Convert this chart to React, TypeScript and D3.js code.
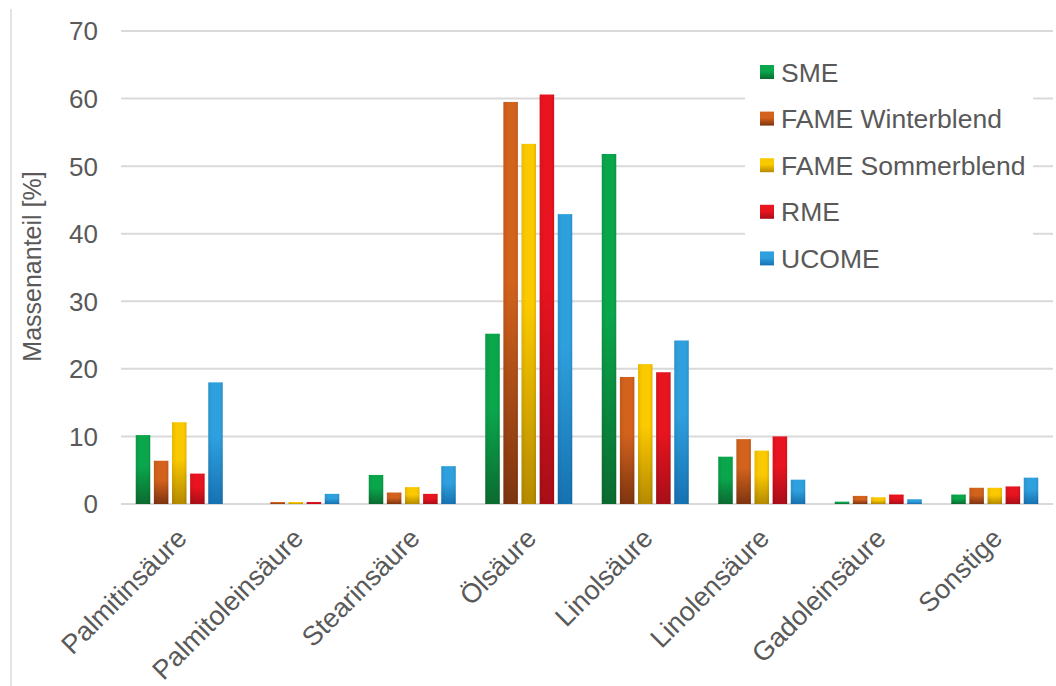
import React from "react";
import * as d3 from "d3";

const categories = [
  "Palmitinsäure",
  "Palmitoleinsäure",
  "Stearinsäure",
  "Ölsäure",
  "Linolsäure",
  "Linolensäure",
  "Gadoleinsäure",
  "Sonstige",
];

const seriesNames = ["SME", "FAME Winterblend", "FAME Sommerblend", "RME", "UCOME"];

const sme = [10.2, 0.0, 4.3, 25.2, 51.8, 7.0, 0.35, 1.4];
const fameWinter = [6.4, 0.3, 1.7, 59.5, 18.8, 9.6, 1.2, 2.4];
const fameSommer = [12.1, 0.3, 2.5, 53.3, 20.7, 7.9, 1.0, 2.4];
const rme = [4.5, 0.3, 1.5, 60.6, 19.5, 10.0, 1.4, 2.6];
const ucome = [18.0, 1.5, 5.6, 42.9, 24.2, 3.6, 0.7, 3.9];

const seriesValues = [sme, fameWinter, fameSommer, rme, ucome];

const yTicks = [0, 10, 20, 30, 40, 50, 60, 70];

const colorsTop = ["#0aa64c", "#d2621c", "#fbc900", "#e8141f", "#2fa0de"];
const colorsBottom = ["#0b6b30", "#7e3410", "#b58a00", "#a80e18", "#1672b2"];

export default function App() {
  const W = 1056;
  const H = 686;
  const left = 121;
  const right = 1053;
  const top = 31;
  const bottom = 504;

  const x0 = d3.scaleBand<string>().domain(categories).range([left, right]).paddingInner(0).paddingOuter(0);
  const y = d3.scaleLinear().domain([0, 70]).range([bottom, top]);
  const groupW = 87;
  const x1 = d3
    .scaleBand<string>()
    .domain(seriesNames)
    .range([0, groupW])
    .paddingInner(0.2)
    .paddingOuter(0);

  const textColor = "#595959";
  const font = "'Liberation Sans', Arial, sans-serif";

  return (
    <svg
      width={W}
      height={H}
      style={{ position: "absolute", left: 0, top: 0, background: "#fff" }}
      fontFamily={font}
    >
      <defs>
        {seriesNames.map((s, i) => (
          <linearGradient key={s} id={`g${i}`} x1="0" y1="0" x2="0" y2="1">
            <stop offset="0%" stopColor={colorsTop[i]} />
            <stop offset="45%" stopColor={colorsTop[i]} />
            <stop offset="100%" stopColor={colorsBottom[i]} />
          </linearGradient>
        ))}
        {seriesNames.map((s, i) => (
          <linearGradient key={s} id={`gh${i}`} x1="0" y1="0" x2="1" y2="0">
            <stop offset="0%" stopColor="#000" stopOpacity={0.08} />
            <stop offset="30%" stopColor="#000" stopOpacity={0} />
            <stop offset="80%" stopColor="#000" stopOpacity={0} />
            <stop offset="100%" stopColor="#000" stopOpacity={0.1} />
          </linearGradient>
        ))}
      </defs>
      <rect x={0} y={0} width={W} height={H} fill="#fff" />
      <line x1={11} x2={11} y1={9} y2={H} stroke="#c8c8c8" strokeWidth={1} />

      {/* gridlines */}
      {yTicks.map((t) => (
        <line
          key={t}
          x1={left}
          x2={right}
          y1={y(t)}
          y2={y(t)}
          stroke="#d9d9d9"
          strokeWidth={2}
        />
      ))}
      {/* y tick labels */}
      {yTicks.map((t) => (
        <text
          key={t}
          x={98}
          y={y(t)}
          dy="0.36em"
          textAnchor="end"
          fontSize={26}
          fill={textColor}
        >
          {t}
        </text>
      ))}
      <text
        transform={`translate(41,${(top + bottom) / 2 - 1}) rotate(-90)`}
        textAnchor="middle"
        fontSize={25}
        fill={textColor}
      >
        Massenanteil [%]
      </text>

      {/* bars */}
      {categories.map((c, ci) => {
        const cx = (x0(c) as number) + x0.bandwidth() / 2;
        const gx = cx - groupW / 2;
        return (
          <g key={c}>
            {seriesNames.map((s, si) => {
              const v = seriesValues[si][ci];
              const bx = gx + (x1(s) as number);
              const by = y(v);
              const bh = bottom - by;
              return (
                <g key={s}>
                  <rect x={bx} y={by} width={x1.bandwidth()} height={bh} fill={`url(#g${si})`} />
                  <rect x={bx} y={by} width={x1.bandwidth()} height={bh} fill={`url(#gh${si})`} />
                </g>
              );
            })}
          </g>
        );
      })}

      {/* x labels */}
      {categories.map((c) => {
        const cx = (x0(c) as number) + x0.bandwidth() / 2;
        return (
          <text
            key={c}
            transform={`translate(${cx + 9},${540}) rotate(-45)`}
            textAnchor="end"
            fontSize={27}
            fill={textColor}
          >
            {c}
          </text>
        );
      })}

      {/* legend */}
      <rect x={745} y={42} width={288} height={246} fill="#fff" />
      {seriesNames.map((s, i) => {
        const ly = 72 + i * 46.6;
        return (
          <g key={s}>
            <rect x={760} y={ly - 7} width={14} height={14} fill={`url(#g${i})`} />
            <text x={781} y={ly} dy="0.36em" fontSize={26.5} fill={textColor}>
              {s}
            </text>
          </g>
        );
      })}
    </svg>
  );
}
